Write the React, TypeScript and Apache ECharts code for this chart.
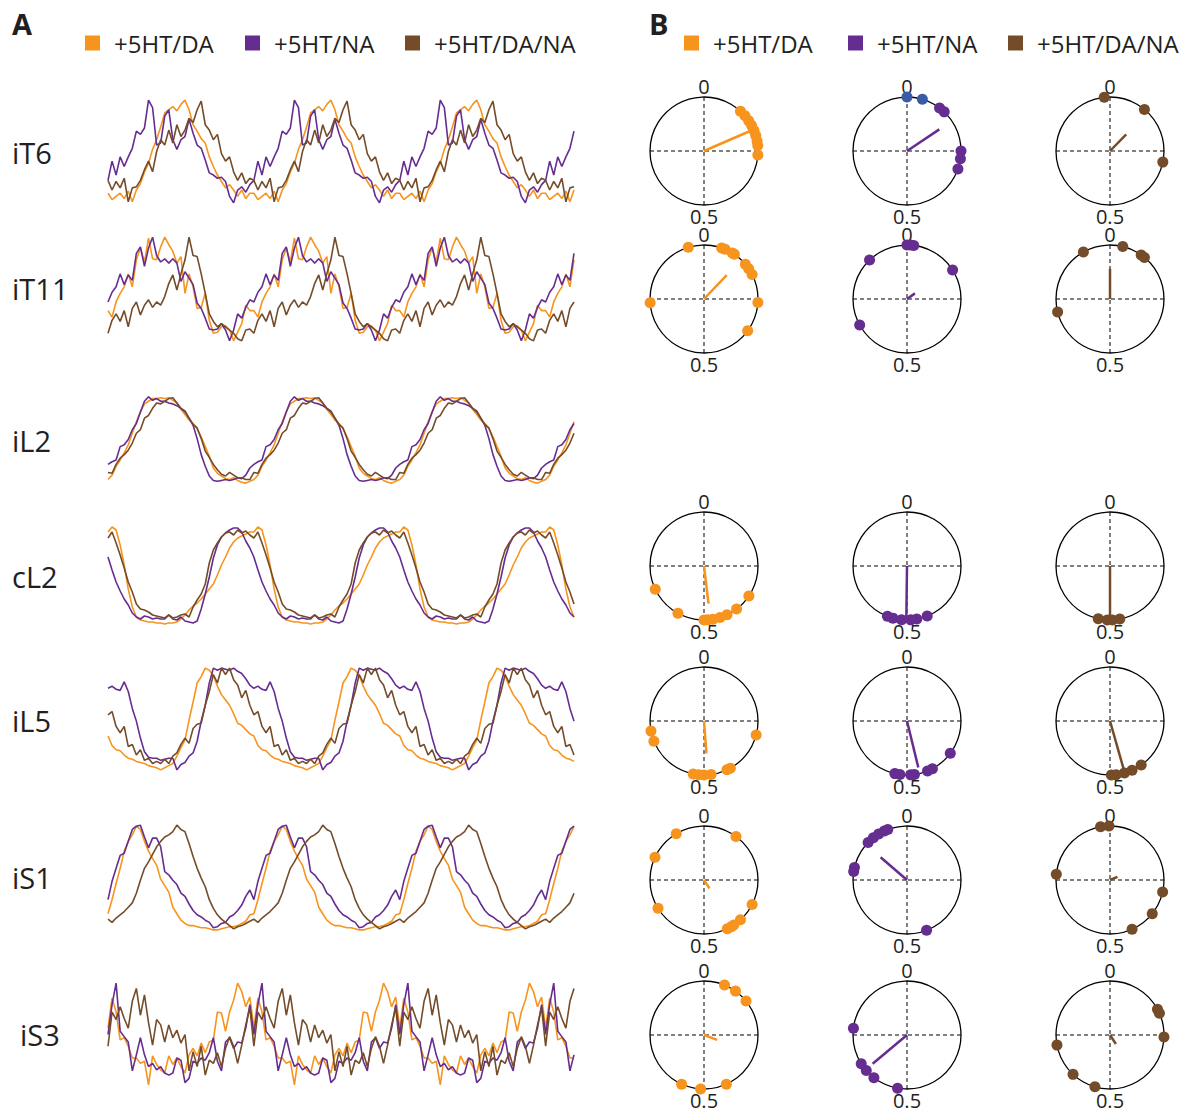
import React, { useEffect, useRef } from "react";
import * as echarts from "echarts";

// ---------- names & labels ----------
const SERIES_NAMES = ["+5HT/DA", "+5HT/NA", "+5HT/DA/NA"];
const ROW_LABELS = ["iT6", "iT11", "iL2", "cL2", "iL5", "iS1", "iS3"];
const POLAR_ZERO_LABEL = "0";
const POLAR_HALF_LABEL = "0.5";

// ---------- panel A: one phase cycle per trace (36 samples, normalised) ----------
const iT6_DA = [0.11,0.05,0.08,0.11,0.06,0.13,0.03,0.14,0.20,0.31,0.39,0.52,0.61,0.73,0.86,0.89,0.92,0.88,0.94,0.98,0.89,0.75,0.69,0.62,0.58,0.45,0.36,0.28,0.22,0.16,0.19,0.14,0.08,0.14,0.06,0.11];
const iT6_NA = [0.23,0.41,0.28,0.45,0.36,0.45,0.53,0.69,0.66,0.72,0.98,0.91,0.56,0.58,0.83,0.89,0.61,0.52,0.61,0.64,0.80,0.67,0.56,0.53,0.42,0.30,0.28,0.25,0.26,0.22,0.08,0.02,0.14,0.17,0.12,0.19];
const iT6_DANA = [0.23,0.14,0.22,0.16,0.25,0.03,0.16,0.17,0.23,0.33,0.41,0.31,0.50,0.61,0.56,0.70,0.58,0.75,0.64,0.70,0.81,0.77,0.89,0.97,0.75,0.70,0.61,0.66,0.48,0.41,0.45,0.31,0.23,0.30,0.20,0.25];

const iT11_DA = [0.30,0.24,0.38,0.46,0.52,0.64,0.52,0.77,0.88,0.75,0.97,0.78,0.77,0.89,0.98,0.91,0.85,0.74,0.80,0.46,0.64,0.52,0.32,0.33,0.46,0.21,0.09,0.10,0.15,0.16,0.12,0.02,0.10,0.18,0.35,0.30];
const iT11_NA = [0.38,0.47,0.52,0.64,0.54,0.63,0.58,0.83,0.89,0.71,0.88,0.98,0.81,0.75,0.78,0.74,0.78,0.74,0.57,0.66,0.60,0.54,0.37,0.32,0.23,0.13,0.12,0.13,0.18,0.12,0.02,0.12,0.27,0.23,0.33,0.40];
const iT11_DANA = [0.09,0.21,0.27,0.20,0.30,0.15,0.32,0.38,0.26,0.35,0.40,0.33,0.38,0.35,0.43,0.55,0.63,0.49,0.64,0.77,0.98,0.81,0.80,0.64,0.46,0.27,0.20,0.15,0.18,0.15,0.12,0.09,0.04,0.02,0.12,0.13];

const iL2_DA = [0.05,0.10,0.20,0.27,0.35,0.44,0.57,0.70,0.81,0.90,0.93,0.96,0.96,0.97,0.96,0.97,0.94,0.91,0.84,0.78,0.72,0.68,0.62,0.53,0.42,0.31,0.18,0.12,0.09,0.06,0.05,0.07,0.04,0.02,0.01,0.03];
const iL2_NA = [0.22,0.25,0.27,0.42,0.44,0.50,0.61,0.68,0.81,0.93,0.98,0.94,0.96,0.93,0.93,0.91,0.90,0.88,0.85,0.81,0.74,0.66,0.51,0.33,0.20,0.09,0.04,0.03,0.04,0.05,0.04,0.05,0.07,0.06,0.10,0.18];
const iL2_DANA = [0.13,0.12,0.22,0.29,0.33,0.38,0.46,0.57,0.61,0.74,0.77,0.85,0.91,0.90,0.93,0.96,0.97,0.91,0.85,0.82,0.74,0.67,0.63,0.51,0.37,0.30,0.22,0.16,0.11,0.09,0.13,0.10,0.07,0.07,0.05,0.05];

const cL2_DA = [0.94,0.99,0.96,0.81,0.61,0.37,0.19,0.09,0.06,0.05,0.04,0.04,0.03,0.03,0.02,0.03,0.03,0.04,0.07,0.11,0.16,0.20,0.23,0.27,0.32,0.37,0.42,0.51,0.61,0.69,0.78,0.84,0.88,0.90,0.92,0.94];
const cL2_NA = [0.69,0.56,0.44,0.35,0.27,0.21,0.13,0.09,0.07,0.10,0.09,0.07,0.08,0.07,0.07,0.11,0.07,0.06,0.09,0.05,0.04,0.03,0.05,0.17,0.32,0.49,0.68,0.81,0.89,0.93,0.96,0.98,0.98,0.94,0.85,0.78];
const cL2_DANA = [0.88,0.94,0.83,0.71,0.58,0.44,0.34,0.22,0.17,0.16,0.14,0.11,0.10,0.09,0.08,0.11,0.08,0.09,0.11,0.12,0.09,0.19,0.26,0.32,0.42,0.63,0.76,0.83,0.89,0.93,0.94,0.91,0.96,0.93,0.95,0.91];

const iL5_DA = [0.34,0.25,0.21,0.20,0.16,0.13,0.12,0.10,0.09,0.08,0.06,0.05,0.04,0.02,0.04,0.06,0.08,0.15,0.23,0.30,0.49,0.66,0.84,0.90,0.98,0.96,0.91,0.81,0.73,0.68,0.63,0.55,0.46,0.44,0.40,0.36];
const iL5_NA = [0.79,0.81,0.78,0.77,0.85,0.76,0.60,0.48,0.32,0.19,0.14,0.13,0.13,0.11,0.12,0.13,0.13,0.02,0.07,0.09,0.15,0.18,0.29,0.48,0.63,0.84,0.98,0.96,0.98,0.97,0.96,0.98,0.95,0.93,0.88,0.82];
const iL5_DANA = [0.54,0.57,0.43,0.37,0.43,0.24,0.26,0.16,0.21,0.11,0.13,0.08,0.10,0.08,0.12,0.08,0.15,0.18,0.26,0.32,0.27,0.41,0.45,0.46,0.63,0.76,0.92,0.84,0.98,0.92,0.98,0.87,0.82,0.70,0.77,0.63];

const iS1_DA = [0.16,0.29,0.44,0.58,0.74,0.83,0.89,0.97,0.94,0.83,0.74,0.67,0.61,0.48,0.42,0.36,0.22,0.16,0.10,0.07,0.05,0.05,0.04,0.03,0.03,0.02,0.01,0.01,0.02,0.03,0.04,0.04,0.05,0.07,0.09,0.15];
const iS1_NA = [0.29,0.46,0.58,0.70,0.72,0.83,0.94,0.97,0.98,0.87,0.77,0.86,0.86,0.78,0.55,0.52,0.47,0.43,0.35,0.32,0.25,0.19,0.15,0.13,0.10,0.08,0.03,0.04,0.07,0.08,0.13,0.15,0.19,0.24,0.32,0.38];
const iS1_DANA = [0.11,0.08,0.12,0.15,0.18,0.22,0.26,0.35,0.47,0.58,0.64,0.71,0.78,0.83,0.87,0.89,0.92,0.98,0.94,0.92,0.81,0.69,0.58,0.49,0.41,0.29,0.21,0.15,0.11,0.08,0.05,0.02,0.04,0.05,0.07,0.09];

const iS3_DA = [0.56,0.84,0.71,0.45,0.47,0.39,0.28,0.28,0.23,0.25,0.03,0.30,0.22,0.17,0.14,0.30,0.22,0.28,0.20,0.14,0.31,0.37,0.30,0.42,0.33,0.43,0.45,0.71,0.70,0.53,0.71,0.82,0.98,0.90,0.76,0.85];
const iS3_NA = [0.50,0.78,0.98,0.53,0.48,0.43,0.16,0.31,0.47,0.31,0.20,0.23,0.17,0.20,0.14,0.12,0.14,0.28,0.26,0.05,0.09,0.25,0.23,0.28,0.26,0.33,0.47,0.25,0.16,0.43,0.47,0.37,0.43,0.42,0.56,0.78];
const iS3_DANA = [0.39,0.71,0.64,0.76,0.65,0.56,0.81,0.93,0.68,0.87,0.61,0.40,0.64,0.59,0.43,0.59,0.47,0.54,0.42,0.50,0.16,0.34,0.20,0.39,0.12,0.26,0.23,0.33,0.20,0.37,0.48,0.39,0.23,0.40,0.59,0.75];

// number of cycles shown (3 full + a partial one)
const CYCLES_SHOWN = 3 + 7 / 36;

// ---------- panel B: phases of individual preparations and mean vectors [phase, length] ----------
const iT6_DA_phases = [0.118,0.137,0.155,0.171,0.188,0.204,0.22,0.234,0.262];
const iT6_DA_vector = [0.185, 0.92];
const iT6_NA_phases = [0.103,0.121,0.25,0.273,0.304];
const iT6_NA_bluePhases = [0.0, 0.046];
const iT6_NA_vector = [0.156, 0.72];
const iT6_DANA_phases = [0.983,0.11,0.283];
const iT6_DANA_vector = [0.123, 0.43];

const iT11_DA_phases = [0.953,0.053,0.064,0.088,0.095,0.139,0.155,0.175,0.739,0.26,0.35];
const iT11_DA_vector = [0.121, 0.61];
const iT11_NA_phases = [0.0,0.01,0.02,0.878,0.16,0.67];
const iT11_NA_vector = [0.152, 0.18];
const iT11_DANA_phases = [0.918,0.038,0.098,0.11,0.711];
const iT11_DANA_vector = [0.0, 0.56];

const cL2_DA_phases = [0.679,0.58,0.5,0.489,0.474,0.452,0.43,0.397,0.344];
const cL2_DA_vector = [0.481, 0.70];
const cL2_NA_phases = [0.559,0.542,0.516,0.489,0.471,0.439];
const cL2_NA_vector = [0.502, 0.95];
const cL2_DANA_phases = [0.535,0.508,0.493,0.471];
const cL2_DANA_vector = [0.5, 0.97];

const iL5_DA_phases = [0.72,0.689,0.292,0.43,0.419,0.532,0.516,0.5,0.479];
const iL5_DA_vector = [0.488, 0.6];
const iL5_NA_phases = [0.352,0.422,0.438,0.489,0.478,0.536,0.521];
const iL5_NA_vector = [0.462, 0.885];
const iL5_DANA_phases = [0.402,0.433,0.457,0.482,0.496];
const iL5_DANA_vector = [0.456, 0.96];

const iS1_DA_phases = [0.914,0.101,0.819,0.662,0.325,0.382,0.407,0.416,0.429];
const iS1_DA_vector = [0.408, 0.185];
const iS1_NA_phases = [0.942,0.931,0.912,0.893,0.872,0.787,0.775,0.441];
const iS1_NA_vector = [0.863, 0.645];
const iS1_DANA_phases = [0.972,0.997,0.767,0.286,0.357,0.433];
const iS1_DANA_vector = [0.186, 0.15];

const iS3_DA_phases = [0.062,0.099,0.142,0.568,0.51,0.432];
const iS3_DA_vector = [0.307, 0.26];
const iS3_NA_phases = [0.77,0.661,0.636,0.605,0.528];
const iS3_NA_vector = [0.639, 0.83];
const iS3_DANA_phases = [0.171,0.184,0.256,0.72,0.62,0.545];
const iS3_DANA_vector = [0.408, 0.2];

// ---------- assembled tables ----------
const TRACE_ROWS = [
  [iT6_DA, iT6_NA, iT6_DANA],
  [iT11_DA, iT11_NA, iT11_DANA],
  [iL2_DA, iL2_NA, iL2_DANA],
  [cL2_DA, cL2_NA, cL2_DANA],
  [iL5_DA, iL5_NA, iL5_DANA],
  [iS1_DA, iS1_NA, iS1_DANA],
  [iS3_DA, iS3_NA, iS3_DANA],
];

type Cell = { phases: number[]; vector: number[]; blue?: number[] };
const POLAR_ROWS: { row: number; cells: Cell[] }[] = [
  { row: 0, cells: [
    { phases: iT6_DA_phases, vector: iT6_DA_vector },
    { phases: iT6_NA_phases, vector: iT6_NA_vector, blue: iT6_NA_bluePhases },
    { phases: iT6_DANA_phases, vector: iT6_DANA_vector },
  ] },
  { row: 1, cells: [
    { phases: iT11_DA_phases, vector: iT11_DA_vector },
    { phases: iT11_NA_phases, vector: iT11_NA_vector },
    { phases: iT11_DANA_phases, vector: iT11_DANA_vector },
  ] },
  { row: 3, cells: [
    { phases: cL2_DA_phases, vector: cL2_DA_vector },
    { phases: cL2_NA_phases, vector: cL2_NA_vector },
    { phases: cL2_DANA_phases, vector: cL2_DANA_vector },
  ] },
  { row: 4, cells: [
    { phases: iL5_DA_phases, vector: iL5_DA_vector },
    { phases: iL5_NA_phases, vector: iL5_NA_vector },
    { phases: iL5_DANA_phases, vector: iL5_DANA_vector },
  ] },
  { row: 5, cells: [
    { phases: iS1_DA_phases, vector: iS1_DA_vector },
    { phases: iS1_NA_phases, vector: iS1_NA_vector },
    { phases: iS1_DANA_phases, vector: iS1_DANA_vector },
  ] },
  { row: 6, cells: [
    { phases: iS3_DA_phases, vector: iS3_DA_vector },
    { phases: iS3_NA_phases, vector: iS3_NA_vector },
    { phases: iS3_DANA_phases, vector: iS3_DANA_vector },
  ] },
];

// ---------- layout & style ----------
const COLORS = ["#F7941D", "#662D91", "#754C29"];
const BLUE = "#3B5BA5";
const TEXT = "#231F20";
const FONT = '"Open Sans", "Noto Sans", sans-serif';
const TRACE_LEFT = 108;
const TRACE_WIDTH = 466;
const ROW_BOX = [
  [98, 205], [235, 343], [395, 484], [526, 626], [666, 772], [823, 931], [981, 1088],
];
const ROW_LABEL_POS = [
  [12, 152], [12, 288], [12, 440], [12, 576], [12, 720], [12, 877], [20, 1034],
];
const POLAR_X = [704, 907, 1110];
const POLAR_Y: Record<number, number> = { 0: 151, 1: 299, 3: 566, 4: 721, 5: 880, 6: 1035 };
const POLAR_R = 54;
const LEGEND_LEFT = [85, 245, 405, 684, 848, 1008];

function tile(cycle: number[]) {
  const n = cycle.length;
  const out: number[][] = [];
  for (let c = 0; c < 4; c++) {
    for (let k = 0; k < n; k++) {
      const x = c + k / n;
      if (x <= CYCLES_SHOWN + 1e-9) out.push([x, cycle[k]]);
    }
  }
  return out;
}

function buildOption() {
  const grid: any[] = [];
  const xAxis: any[] = [];
  const yAxis: any[] = [];
  const series: any[] = [];

  TRACE_ROWS.forEach((row, r) => {
    const [top, bottom] = ROW_BOX[r];
    grid.push({ left: TRACE_LEFT, width: TRACE_WIDTH, top, height: bottom - top });
    xAxis.push({ gridIndex: r, type: "value", min: 0, max: CYCLES_SHOWN, show: false });
    yAxis.push({ gridIndex: r, type: "value", min: 0, max: 1, show: false });
    row.forEach((cycle, s) => {
      series.push({
        type: "line",
        name: SERIES_NAMES[s],
        xAxisIndex: r,
        yAxisIndex: r,
        data: tile(cycle),
        symbol: "none",
        showSymbol: false,
        silent: true,
        clip: false,
        z: 2 + s,
        lineStyle: { color: COLORS[s], width: 1.6 },
        itemStyle: { color: COLORS[s] },
      });
    });
  });

  const polar: any[] = [];
  const angleAxis: any[] = [];
  const radiusAxis: any[] = [];
  let p = 0;
  POLAR_ROWS.forEach(({ row, cells }) => {
    cells.forEach((cell, c) => {
      polar.push({ center: [POLAR_X[c], POLAR_Y[row]], radius: POLAR_R });
      angleAxis.push({
        polarIndex: p,
        type: "value",
        min: 0,
        max: 1,
        interval: 0.25,
        startAngle: 90,
        clockwise: true,
        axisLine: { lineStyle: { color: "#000", width: 1.3 } },
        axisTick: { show: false },
        axisLabel: {
          margin: 1,
          fontSize: 20,
          color: TEXT,
          fontFamily: FONT,
          formatter: (v: number) => (v === 0 ? POLAR_ZERO_LABEL : v === 0.5 ? POLAR_HALF_LABEL : ""),
        },
        splitLine: { show: true, lineStyle: { type: [4, 3], color: "#000", width: 1 } },
      });
      radiusAxis.push({ polarIndex: p, type: "value", min: 0, max: 1, show: false });
      const color = COLORS[c];
      series.push({
        type: "line",
        name: SERIES_NAMES[c],
        coordinateSystem: "polar",
        polarIndex: p,
        data: [[0, cell.vector[0]], [cell.vector[1], cell.vector[0]]],
        symbol: "none",
        silent: true,
        z: 4,
        lineStyle: { color, width: 2.5 },
        itemStyle: { color },
      });
      const pts: any[] = cell.phases.map((ph) => ({ value: [1, ph] }));
      (cell.blue || []).forEach((ph) => pts.push({ value: [1, ph], itemStyle: { color: BLUE } }));
      series.push({
        type: "scatter",
        name: SERIES_NAMES[c],
        coordinateSystem: "polar",
        polarIndex: p,
        data: pts,
        symbolSize: 11,
        silent: true,
        z: 5,
        itemStyle: { color, opacity: 1 },
      });
      p++;
    });
  });

  const legend = LEGEND_LEFT.map((left, i) => ({
    data: [SERIES_NAMES[i % 3]],
    left,
    top: 29,
    padding: 0,
    itemGap: 0,
    icon: "rect",
    itemWidth: 15,
    itemHeight: 15,
    selectedMode: false,
    itemStyle: { borderWidth: 0 },
    textStyle: { fontSize: 24, color: TEXT, fontFamily: FONT, lineHeight: 28, padding: [0, 0, 0, 9] },
  }));

  const graphic: any[] = [
    { type: "text", x: 12, y: 23, style: { text: "A", fontSize: 29, fontWeight: "bold", fontFamily: FONT, fill: TEXT, verticalAlign: "middle" } },
    { type: "text", x: 649, y: 23, style: { text: "B", fontSize: 29, fontWeight: "bold", fontFamily: FONT, fill: TEXT, verticalAlign: "middle" } },
  ];
  ROW_LABELS.forEach((label, i) => {
    graphic.push({
      type: "text",
      x: ROW_LABEL_POS[i][0],
      y: ROW_LABEL_POS[i][1],
      style: { text: label, fontSize: 29, fontFamily: FONT, fill: TEXT, verticalAlign: "middle" },
    });
  });

  return {
    animation: false,
    backgroundColor: "#fff",
    textStyle: { fontFamily: FONT },
    legend,
    grid,
    xAxis,
    yAxis,
    polar,
    angleAxis,
    radiusAxis,
    series,
    graphic,
  };
}

export default function App() {
  const ref = useRef<HTMLDivElement>(null);
  useEffect(() => {
    if (!ref.current) return;
    const chart = echarts.init(ref.current, undefined, { renderer: "svg" });
    chart.setOption(buildOption() as any);
    return () => chart.dispose();
  }, []);
  return (
    <div
      ref={ref}
      style={{ position: "absolute", left: 0, top: 0, width: 1184, height: 1117, background: "#fff" }}
    />
  );
}
